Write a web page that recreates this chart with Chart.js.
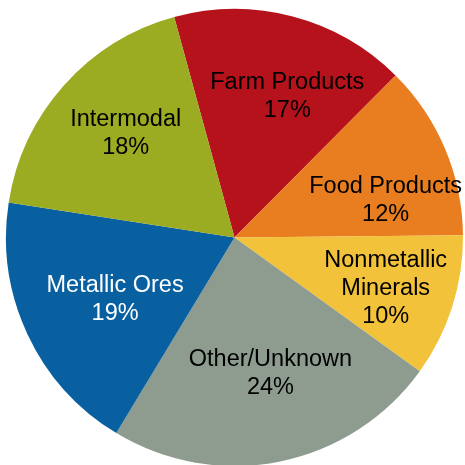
<!DOCTYPE html>
<html>
<head>
<meta charset="utf-8">
<script src="https://cdn.jsdelivr.net/npm/chart.js@4.4.1/dist/chart.umd.min.js"></script>
<style>
html,body{margin:0;padding:0;background:#fff;overflow:hidden;}
canvas{display:block;}
</style>
</head>
<body>
<canvas id="c" width="465" height="466"></canvas>
<script>
const categories = ["Farm Products", "Food Products", "Nonmetallic Minerals", "Other/Unknown", "Metallic Ores", "Intermodal"];
const labelLines = [["Farm Products"], ["Food Products"], ["Nonmetallic", "Minerals"], ["Other/Unknown"], ["Metallic Ores"], ["Intermodal"]];
const shares = [16.7, 12.4, 10.1, 23.7, 18.8, 18.3];
const colors = ["#B5121B", "#E87E1F", "#F2C23A", "#8D9C8F", "#0860A0", "#9BAB22"];
const textColors = ["#000", "#000", "#000", "#000", "#fff", "#000"];

// label placement tuning (radial fraction and angular nudge in degrees)
const labelRadius = [0.667, 0.683, 0.696, 0.607, 0.585, 0.665];
const labelShift = [5.5, 8.4, 0.4, -3.5, -1.7, 2.5];

const labelPlugin = {
  id: 'sliceLabels',
  afterDatasetsDraw(chart) {
    const ctx = chart.ctx;
    const meta = chart.getDatasetMeta(0);
    const total = shares.reduce((a, b) => a + b, 0);
    const size = 23.5;
    ctx.save();
    ctx.font = size + 'px "Liberation Sans", Arial, sans-serif';
    ctx.textAlign = 'center';
    ctx.textBaseline = 'alphabetic';
    const lh = 27.7;
    meta.data.forEach((arc, i) => {
      const p = arc.getProps(['x', 'y', 'startAngle', 'endAngle', 'outerRadius'], true);
      const mid = (p.startAngle + p.endAngle) / 2 + labelShift[i] * Math.PI / 180;
      const r = p.outerRadius * labelRadius[i];
      const cx = p.x + Math.cos(mid) * r;
      const cy = p.y + Math.sin(mid) * r;
      const lines = labelLines[i].concat([Math.round(shares[i] / total * 100) + '%']);
      const top = cy - (lines.length - 1) * lh / 2;
      ctx.fillStyle = textColors[i];
      lines.forEach((t, k) => ctx.fillText(t, cx, top + k * lh + size * 0.358));
    });
    ctx.restore();
  }
};

new Chart(document.getElementById('c'), {
  type: 'pie',
  data: {
    labels: categories,
    datasets: [{
      data: shares,
      backgroundColor: colors,
      borderWidth: 0,
      hoverOffset: 0
    }]
  },
  options: {
    responsive: false,
    animation: false,
    rotation: -15.3,
    layout: { padding: { top: 9, left: 5, right: 1, bottom: 0 } },
    plugins: { legend: { display: false }, tooltip: { enabled: false } }
  },
  plugins: [labelPlugin]
});
</script>
</body>
</html>
